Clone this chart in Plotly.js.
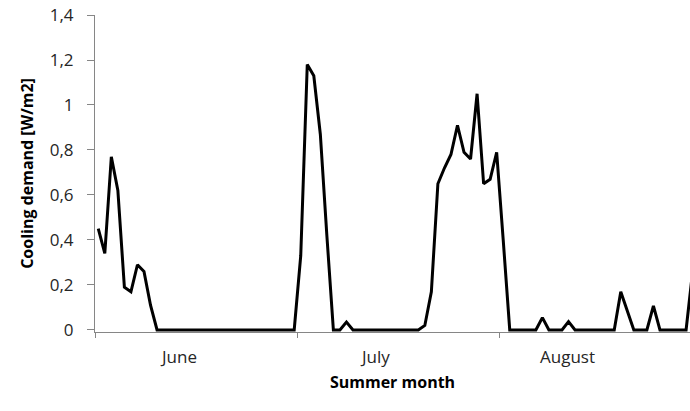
<!DOCTYPE html>
<html>
<head>
<meta charset="utf-8">
<script src="https://cdn.plot.ly/plotly-3.0.1.min.js"></script>
<style>
  html, body { margin: 0; padding: 0; background: #fff; overflow: hidden; }
  #chart { width: 690px; height: 411px; }
</style>
</head>
<body>
<div id="chart"></div>
<script>
// Daily cooling demand [W/m2] over the summer, one value per day
const june = [0.45, 0.34, 0.77, 0.62, 0.19, 0.17, 0.29, 0.26, 0.11, 0,
              0, 0, 0, 0, 0, 0, 0, 0, 0, 0,
              0, 0, 0, 0, 0, 0, 0, 0, 0, 0];
const july = [0, 0.33, 1.18, 1.13, 0.87, 0.42, 0, 0, 0.035, 0,
              0, 0, 0, 0, 0, 0, 0, 0, 0, 0,
              0.02, 0.17, 0.65, 0.72, 0.78, 0.91, 0.79, 0.76, 1.05, 0.65,
              0.67];
const august = [0.79, 0.40, 0, 0, 0, 0, 0, 0.055, 0, 0,
                0, 0.037, 0, 0, 0, 0, 0, 0, 0, 0.17,
                0.085, 0, 0, 0, 0.107, 0, 0, 0, 0, 0,
                0.26];

// Month names and where their labels sit (day index), month boundaries for ticks
const monthLabels = ['June', 'July', 'August'];
const monthLabelPos = [12.3, 42.3, 71.8];
const monthBoundaries = [-0.5, 30.5, 61.5];

const yTicks = [0, 0.2, 0.4, 0.6, 0.8, 1, 1.2, 1.4];

const demand = june.concat(july, august);
const day = demand.map((_, i) => i);

const axisGrey = '#868686';
const textColor = '#262626';
const font = 'Open Sans, Noto Sans, sans-serif';

const trace = {
  x: day,
  y: demand,
  type: 'scatter',
  mode: 'lines',
  line: { color: '#000000', width: 3, shape: 'linear' },
  hoverinfo: 'x+y',
  showlegend: false
};

const annotations = monthLabels.map((m, k) => ({
  text: m,
  x: monthLabelPos[k],
  xref: 'x',
  y: -0.077,
  yref: 'paper',
  xanchor: 'center',
  yanchor: 'middle',
  showarrow: false,
  font: { family: font, size: 17, color: textColor }
}));

const layout = {
  width: 690,
  height: 411,
  margin: { l: 95, r: 0, t: 15, b: 79 },
  paper_bgcolor: '#ffffff',
  plot_bgcolor: '#ffffff',
  separators: ',.',
  showlegend: false,
  xaxis: {
    range: [-0.5, 90.6],
    showgrid: false,
    zeroline: false,
    showline: true,
    linecolor: axisGrey,
    linewidth: 1,
    tickmode: 'array',
    tickvals: monthBoundaries,
    ticktext: monthBoundaries.map(() => ''),
    ticks: 'outside',
    ticklen: 5,
    tickwidth: 1,
    tickcolor: axisGrey,
    showticklabels: false,
    fixedrange: true,
    title: {
      text: 'Summer month',
      font: { family: font, size: 16, color: '#000000', weight: 'bold' },
      standoff: 39
    }
  },
  yaxis: {
    range: [-0.009, 1.4],
    showgrid: false,
    zeroline: false,
    showline: true,
    linecolor: axisGrey,
    linewidth: 1,
    tickmode: 'array',
    tickvals: yTicks,
    ticks: 'outside',
    ticklen: 7,
    tickwidth: 1,
    tickcolor: axisGrey,
    ticklabelstandoff: 10,
    tickfont: { family: font, size: 17, color: textColor },
    fixedrange: true,
    title: {
      text: 'Cooling demand [W/m2]',
      font: { family: font, size: 16, color: '#000000', weight: 'bold' },
      standoff: 12
    }
  },
  annotations: annotations
};

Plotly.newPlot('chart', [trace], layout, { displayModeBar: false, staticPlot: true });
</script>
</body>
</html>
